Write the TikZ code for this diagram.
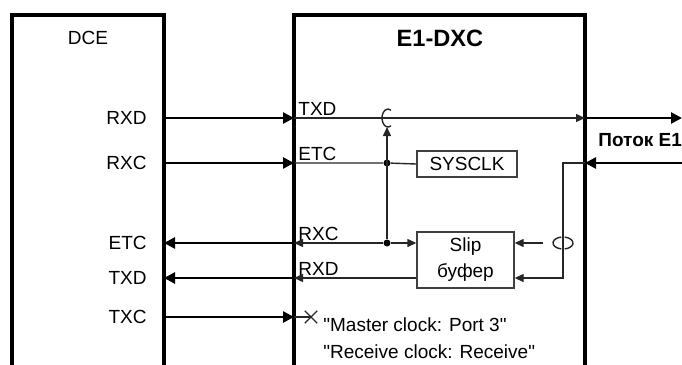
\documentclass[tikz,border=0pt]{standalone}
\usepackage{fontspec}
\setmainfont{Liberation Sans}
\usetikzlibrary{arrows.meta,positioning,shapes.misc}

\tikzset{
  frame/.style={line width=1.7pt},
  bus/.style={line width=1.3pt, -{Triangle[length=5.5pt,width=5.5pt]}},
  wire/.style={line width=0.7pt, black!85},
  wirearr/.style={wire, -{Triangle[length=4.5pt,width=4pt]}},
  block/.style={draw=black!75, line width=0.7pt, inner sep=0pt, align=center},
  pin/.style={inner sep=0pt},
  junction/.style={circle, fill=black, inner sep=0pt, minimum size=3.5pt}
}

\begin{document}
\begin{tikzpicture}[x=0.5pt, y=-0.5pt, font=\fontsize{9.5}{13}\selectfont]
    \useasboundingbox (0,0) rectangle (682,365);

    % the two units, open at the bottom
    \draw[frame] (12,365) -- (12,15) -- (164,15) -- (164,365);
    \draw[frame] (294,365) -- (294,15) -- (585,15) -- (585,365);
    \node (dce) at (88,38) {DCE};
    \node[font=\bfseries\fontsize{11.8}{14}\selectfont] (dxc) at (440,38) {E1-DXC};

    \foreach \y/\n in {118/rxd, 163/rxc, 243/etc, 278/txd, 317/txc} {
      \coordinate (dce-\n) at (164,\y);
      \coordinate (dxc-\n) at (294,\y);
    }

    % DCE side
    \node[pin, anchor=east] (l-rxd) at (147,118) {RXD};
    \node[pin, anchor=east] (l-rxc) at (147,163) {RXC};
    \node[pin, anchor=east] (l-etc) at (147,243) {ETC};
    \node[pin, anchor=east] (l-txd) at (147,278) {TXD};
    \node[pin, anchor=east] (l-txc) at (147,317) {TXC};

    \draw[bus] (dce-rxd) -- (dxc-rxd);
    \draw[bus] (dce-rxc) -- (dxc-rxc);
    \draw[bus] (dxc-etc) -- (dce-etc);
    \draw[bus] (dxc-txd) -- (dce-txd);
    \draw[bus] (dce-txc) -- (dxc-txc);

    % E1-DXC side
    \node[pin, anchor=south west] (i-txd) at (298,116) {TXD};
    \node[pin, anchor=south west] (i-etc) at (298,161) {ETC};
    \node[pin, anchor=south west] (i-rxc) at (298,241) {RXC};
    \node[pin, anchor=south west] (i-rxd) at (298,276) {RXD};

    \node[block, minimum width=50pt, minimum height=13pt] (sysclk) at (467,164) {SYSCLK};
    \node[block, minimum width=48.5pt, minimum height=28pt] (slip) at (465.5,260) {Slip\\буфер};

    \coordinate (txo) at (585,118);
    \coordinate (rxi) at (585,163);
    \coordinate (e1out) at (682,118);
    \coordinate (e1in) at (682,163);
    \node[pin, anchor=west, font=\bfseries\fontsize{9.5}{12}\selectfont] (e1) at (598,140) {Поток E1};

    \draw[wirearr] (dxc-rxd) -- (txo);
    \draw[bus] (txo) -- (e1out);
    \draw[bus] (e1in) -- (rxi);

    \node[junction] (clk) at (387,163) {};
    \node[junction] (rclk) at (387,243) {};
    \coordinate (hop) at (388,118);
    \draw[wire] (dxc-rxc) -- (clk) -- (sysclk.west);
    \draw[wirearr] (rclk) -- (387,127);
    \draw[wire] (hop) ++(60:6 and 9) arc[start angle=60, end angle=300, x radius=6, y radius=9];

    \draw[wirearr] (rclk) -- (dxc-etc);
    \draw[wirearr] (rclk) -- (slip.west |- rclk);
    \draw[wirearr] (slip.west |- dxc-txd) -- (dxc-txd);

    % recovered clock from the E1 line
    \coordinate (turn) at (563,163);
    \coordinate (cross) at (563,243);
    \draw[wirearr] (rxi) -- (turn) -- (turn |- dxc-txd) -- (slip.east |- dxc-txd);
    \draw[wirearr] ([xshift=-10]cross) -- (slip.east |- cross);
    \draw[wire] (cross) ++(100:10 and 6) arc[start angle=100, end angle=260, x radius=10, y radius=6];
    \draw[wire] (cross) ++(-80:10 and 6) arc[start angle=-80, end angle=80, x radius=10, y radius=6];

    % TXC goes nowhere
    \node[cross out, draw, wire, minimum size=5.5pt, inner sep=0pt] (xm) at (311,317) {};
    \draw[wire] (dxc-txc) -- (xm.center);
    \node[pin, anchor=west, align=left, font=\fontsize{9.5}{13.5}\selectfont] (note) at (323,338.5)
      {\textquotedbl Master clock: Port 3\textquotedbl\\\textquotedbl Receive clock: Receive\textquotedbl};
\end{tikzpicture}
\end{document}
